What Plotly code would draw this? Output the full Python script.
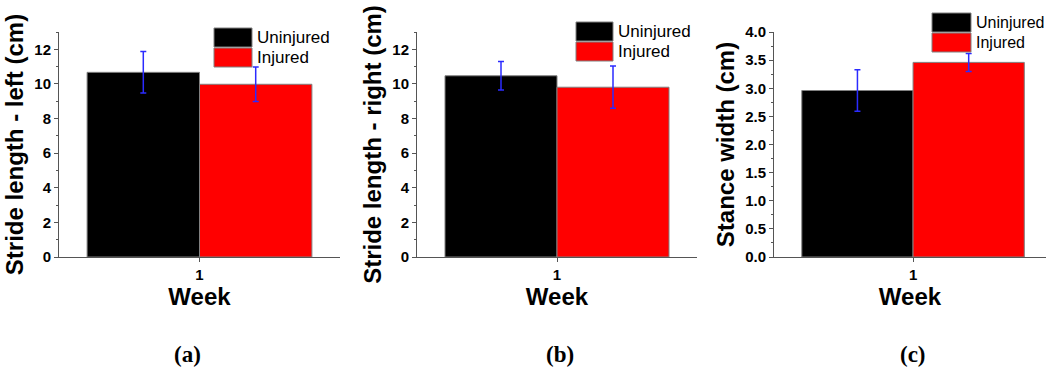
import plotly.graph_objects as go

# ---- data ----
weeks = ["1"]
groups = ["Uninjured", "Injured"]
stride_left = [10.67, 9.98]
stride_left_err = [1.20, 1.00]
stride_right = [10.47, 9.81]
stride_right_err = [0.82, 1.22]
stance_width = [2.96, 3.46]
stance_width_err = [0.37, 0.16]
stride_ticks = [0, 2, 4, 6, 8, 10, 12]
stride_tick_labels = ["0", "2", "4", "6", "8", "10", "12"]
stance_ticks = [0.0, 0.5, 1.0, 1.5, 2.0, 2.5, 3.0, 3.5, 4.0]
stance_tick_labels = ["0.0", "0.5", "1.0", "1.5", "2.0", "2.5", "3.0", "3.5", "4.0"]
y_titles = ["Stride length - left (cm)", "Stride length - right (cm)", "Stance width (cm)"]
x_title = "Week"
panel_labels = ["(a)", "(b)", "(c)"]

W, H = 1046, 368
bar_colors = ["#000000", "#FF0000"]
FONT = "Liberation Sans, Arial, sans-serif"

def px_x(x):
    return x / W

def px_y(y):
    return 1 - y / H

panels = [
    dict(vals=stride_left, errs=stride_left_err, xdom=[59, 340], xr=[-0.5, 0.5],
         yr=[0, 13], tv=stride_ticks, tt=stride_tick_labels, minor=1,
         legend_box=(214, 252, 28), legend_font=17, label_x=187),
    dict(vals=stride_right, errs=stride_right_err, xdom=[417, 697], xr=[-0.5, 0.5],
         yr=[0, 13], tv=stride_ticks, tt=stride_tick_labels, minor=1,
         legend_box=(576, 613, 22), legend_font=17, label_x=560),
    dict(vals=stance_width, errs=stance_width_err, xdom=[774, 1046], xr=[-0.5, 0.478],
         yr=[0, 4], tv=stance_ticks, tt=stance_tick_labels, minor=0.25,
         legend_box=(932, 971, 13), legend_font=16, label_x=913),
]

fig = go.Figure()
shapes = []
annotations = []

for i, p in enumerate(panels):
    sfx = "" if i == 0 else str(i + 1)
    for g, name in enumerate(groups):
        fig.add_trace(go.Bar(
            x=weeks, y=[p["vals"][g]], name=name,
            marker=dict(color=bar_colors[g], line=dict(color="#808080", width=1)),
            error_y=dict(type="data", array=[p["errs"][g]], color="#2B2BFF",
                         thickness=1.5, width=3),
            xaxis="x" + sfx, yaxis="y" + sfx, showlegend=False,
        ))
    ydom = [px_y(257), px_y(32)]
    fig.update_layout(**{
        "xaxis" + sfx: dict(
            domain=[px_x(p["xdom"][0]), px_x(p["xdom"][1])], range=p["xr"],
            anchor="y" + sfx, type="category", automargin=False,
            tickvals=weeks, ticktext=["<b>" + w + "</b>" for w in weeks],
            showline=True, linecolor="#555555", linewidth=1,
            ticks="outside", ticklen=4, tickcolor="#555555",
            tickfont=dict(family=FONT, size=15, color="black"),
            title=dict(text="<b>" + x_title + "</b>",
                       font=dict(family=FONT, size=24, color="black"), standoff=0),
            showgrid=False, zeroline=False,
        ),
        "yaxis" + sfx: dict(
            domain=ydom, range=p["yr"], anchor="x" + sfx, automargin=False,
            tickvals=p["tv"], ticktext=["<b>" + t + "</b>" for t in p["tt"]],
            showline=True, linecolor="#555555", linewidth=1,
            ticks="outside", ticklen=4, tickcolor="#555555",
            minor=dict(dtick=p["minor"], ticks="outside", ticklen=2, tickcolor="#555555"),
            tickfont=dict(family=FONT, size=15, color="black"),
            title=dict(text="<b>" + y_titles[i] + "</b>",
                       font=dict(family=FONT, size=24, color="black"), standoff=3),
            showgrid=False, zeroline=False,
        ),
    })
    # legend boxes
    x0, x1, ytop = p["legend_box"]
    for g, name in enumerate(groups):
        y0 = ytop + g * 20
        shapes.append(dict(type="rect", xref="paper", yref="paper", layer="above",
                           x0=px_x(x0), x1=px_x(x1), y0=px_y(y0), y1=px_y(y0 + 19),
                           fillcolor=bar_colors[g], line=dict(color="#808080", width=1)))
        annotations.append(dict(text=name, xref="paper", yref="paper",
                                x=px_x(x1 + 3), y=px_y(y0 + 9.5), xanchor="left", yanchor="middle",
                                showarrow=False,
                                font=dict(family=FONT, size=p["legend_font"], color="black")))
    annotations.append(dict(text="<b>" + panel_labels[i] + "</b>", xref="paper", yref="paper",
                            x=px_x(p["label_x"]), y=px_y(354), xanchor="center", yanchor="middle",
                            showarrow=False,
                            font=dict(family="Liberation Serif, serif", size=23, color="black")))

fig.update_layout(
    width=W, height=H, margin=dict(l=0, r=0, t=0, b=0, autoexpand=False),
    paper_bgcolor="white", plot_bgcolor="white",
    barmode="group", bargap=0.2, bargroupgap=0,
    shapes=shapes, annotations=annotations, showlegend=False,
)

fig.write_html("out.html")
